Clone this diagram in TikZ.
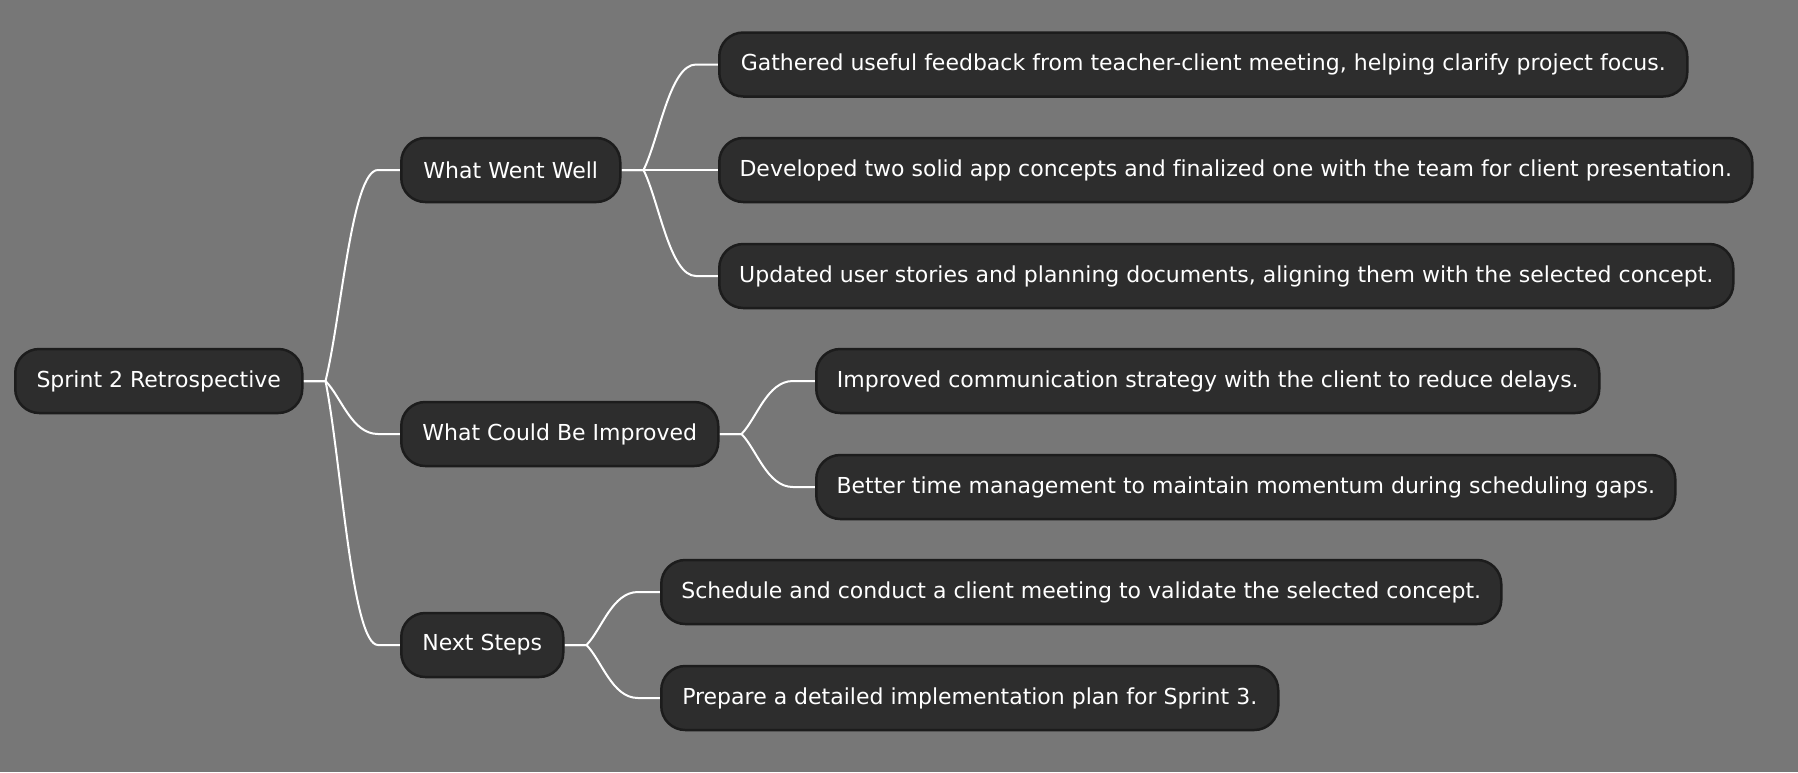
\documentclass[tikz,border=0pt]{standalone}
\usepackage{fontspec}
\setmainfont[Ligatures=NoCommon]{DejaVu Sans}
\usetikzlibrary{calc}
\definecolor{bgcol}{HTML}{777777}
\definecolor{boxfill}{HTML}{2D2D2D}
\definecolor{boxdraw}{HTML}{1C1C1C}
\pgfdeclarelayer{back}
\pgfsetlayers{back,main}
\tikzset{
  mmbox/.style={draw=boxdraw, line width=2.5pt, fill=boxfill, rounded corners=24pt,
    text=white, font=\fontsize{22}{26}\selectfont, minimum height=64pt,
    inner sep=0pt, anchor=west},
  mmline/.style={draw=white, line width=2pt},
}
\newcommand\mmedge[2]{%
  \coordinate (F) at ($(#1.east)+(22pt,0)$);
  \coordinate (E) at ($(#2.west)+(-22pt,0)$);
  \draw[mmline] (#1.east) -- (F) .. controls ($(F)!0.3!(E)$) and ($(E)!0.5!(F|-E)$) .. (E) -- (#2.west);}
\begin{document}
\begin{tikzpicture}
\begin{pgfonlayer}{back}
\fill[bgcol] (0,0) rectangle (1798pt,-772pt);
\end{pgfonlayer}
\useasboundingbox (0,0) rectangle (1798pt,-772pt);
\node[mmbox, minimum width=287pt] (root) at (14pt,-381pt) {Sprint 2 Retrospective};
\node[mmbox, minimum width=219pt] (www) at (400pt,-170pt) {What Went Well};
\node[mmbox, minimum width=317pt] (wcbi) at (400pt,-434pt) {What Could Be Improved};
\node[mmbox, minimum width=162pt] (ns) at (400pt,-645pt) {Next Steps};
\node[mmbox, minimum width=968pt] (l1) at (718pt,-64.5pt) {Gathered useful feedback from teacher-client meeting, helping clarify project focus.};
\node[mmbox, minimum width=1033pt] (l2) at (718pt,-170pt) {Developed two solid app concepts and finalized one with the team for client presentation.};
\node[mmbox, minimum width=1014pt] (l3) at (718pt,-276pt) {Updated user stories and planning documents, aligning them with the selected concept.};
\node[mmbox, minimum width=783pt] (l4) at (815pt,-381pt) {Improved communication strategy with the client to reduce delays.};
\node[mmbox, minimum width=859pt] (l5) at (815pt,-487pt) {Better time management to maintain momentum during scheduling gaps.};
\node[mmbox, minimum width=840pt] (l6) at (660pt,-592pt) {Schedule and conduct a client meeting to validate the selected concept.};
\node[mmbox, minimum width=617pt] (l7) at (660pt,-698pt) {Prepare a detailed implementation plan for Sprint 3.};
\begin{pgfonlayer}{back}
\mmedge{root}{www}
\mmedge{root}{wcbi}
\mmedge{root}{ns}
\mmedge{www}{l1}
\mmedge{www}{l2}
\mmedge{www}{l3}
\mmedge{wcbi}{l4}
\mmedge{wcbi}{l5}
\mmedge{ns}{l6}
\mmedge{ns}{l7}
\end{pgfonlayer}
\end{tikzpicture}
\end{document}
